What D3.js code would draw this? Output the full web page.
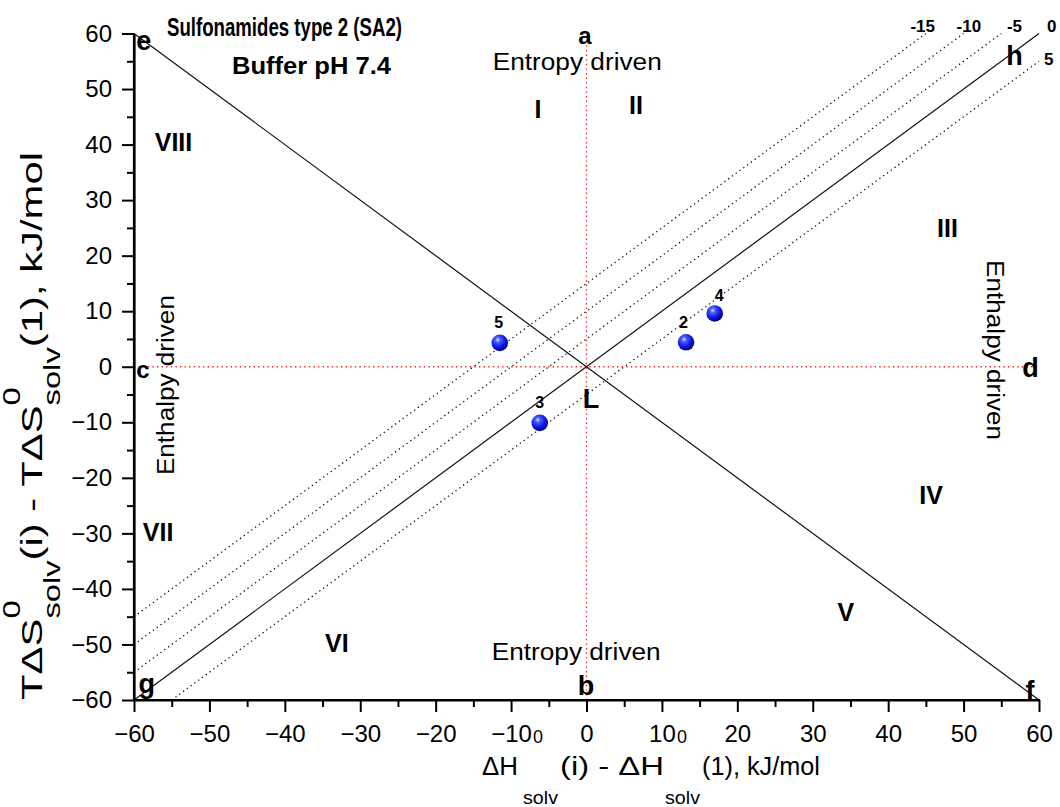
<!DOCTYPE html>
<html>
<head>
<meta charset="utf-8">
<script src="https://cdn.jsdelivr.net/npm/d3@7"></script>
<style>
  body { margin: 0; background: #fff; }
  svg { display: block; }
  text { font-family: "Liberation Sans", Arial, Helvetica, sans-serif; fill: #000; }
</style>
</head>
<body>
<svg id="chart" width="1060" height="807"></svg>
<script>
// Compounds: relative solvation enthalpy and entropy terms (kJ/mol)
const compoundIds = ["2", "3", "4", "5"];
const dHValues   = [13.2, -6.2, 17.0, -11.5];
const TdSValues  = [4.4, -10.1, 9.6, 4.3];

// Iso-Gibbs-energy lines: TΔS = ΔH − ΔG
const dGLevels = [-15, -10, -5, 0, 5];
const dGLabels = ["-15", "-10", "-5", "0", "5"];

// Axis ticks
const xTickValues = [-60, -50, -40, -30, -20, -10, 0, 10, 20, 30, 40, 50, 60];
const yTickValues = [-60, -50, -40, -30, -20, -10, 0, 10, 20, 30, 40, 50, 60];
const minorTickValues = [-55, -45, -35, -25, -15, -5, 5, 15, 25, 35, 45, 55];

// Sector letters, numerals and region captions (data coordinates)
const sectorNames = ["e", "a", "h", "c", "d", "L", "b", "g", "f"];
const sectorX = [-58.7, -0.2, 56.75, -58.8, 58.87, 0.6, -0.07, -58.3, 58.8];
const sectorY = [57.0, 58.1, 54.3, -2.0, -1.8, -7.5, -59.1, -58.7, -60.0];
const regionNames = ["I", "II", "III", "IV", "V", "VI", "VII", "VIII"];
const regionX = [-6.43, 6.56, 47.87, 45.68, 34.4, -33.1, -56.8, -54.76];
const regionY = [44.7, 45.45, 23.3, -24.7, -45.8, -51.3, -31.4, 38.9];

const svg = d3.select("#chart");

const x = d3.scaleLinear().domain([-60, 60]).range([134, 1039]);
const y = d3.scaleLinear().domain([-60, 60]).range([700, 33.5]);

// Sphere shading for the points
const defs = svg.append("defs");
const grad = defs.append("radialGradient").attr("id", "ball")
  .attr("cx", "38%").attr("cy", "32%").attr("r", "70%");
grad.append("stop").attr("offset", "0%").attr("stop-color", "#dfe6ff");
grad.append("stop").attr("offset", "22%").attr("stop-color", "#4a5cff");
grad.append("stop").attr("offset", "65%").attr("stop-color", "#0c14e0");
grad.append("stop").attr("offset", "100%").attr("stop-color", "#00008a");

const plot = svg.append("g");

// Red dotted quadrant lines through the origin
plot.append("line")
  .attr("x1", x(0)).attr("x2", x(0)).attr("y1", y(-60)).attr("y2", y(60))
  .attr("stroke", "#e8262b").attr("stroke-width", 1.3).attr("stroke-dasharray", "1.4,3.2");
plot.append("line")
  .attr("x1", x(-60)).attr("x2", x(60)).attr("y1", y(0)).attr("y2", y(0))
  .attr("stroke", "#e8262b").attr("stroke-width", 1.3).attr("stroke-dasharray", "1.4,3.2");

// Iso-ΔG lines clipped to the square [-60, 60]
dGLevels.forEach((g) => {
  const x0 = Math.max(-60, -60 + g);
  const x1 = Math.min(60, 60 + g);
  const ln = plot.append("line")
    .attr("x1", x(x0)).attr("y1", y(x0 - g))
    .attr("x2", x(x1)).attr("y2", y(x1 - g))
    .attr("stroke", "#111");
  if (g === 0) {
    ln.attr("stroke-width", 1.2);
  } else {
    ln.attr("stroke-width", 1.3).attr("stroke-dasharray", "1.3,3.4");
  }
});

// Diagonal e–f (ΔH = −TΔS)
plot.append("line")
  .attr("x1", x(-60)).attr("y1", y(60))
  .attr("x2", x(60)).attr("y2", y(-60))
  .attr("stroke", "#111").attr("stroke-width", 1.2);

// Labels of the iso-ΔG lines
const dGLabelX = [44.58, 50.7, 56.75, 61.68, 61.3];
const dGLabelY = [60.33, 60.33, 60.33, 60.33, 54.3];
dGLevels.forEach((g, i) => {
  svg.append("text")
    .attr("x", x(dGLabelX[i])).attr("y", y(dGLabelY[i]))
    .attr("text-anchor", "middle")
    .style("font-size", "17px").style("font-weight", "bold")
    .text(dGLabels[i]);
});

// Axes
const xAxis = svg.append("g").attr("transform", `translate(0,${y(-60)})`)
  .call(d3.axisBottom(x).tickValues(xTickValues).tickSize(12).tickPadding(13).tickSizeOuter(0));
const xMinor = svg.append("g").attr("transform", `translate(0,${y(-60)})`)
  .call(d3.axisBottom(x).tickValues(minorTickValues).tickSize(7).tickFormat("").tickSizeOuter(0));
const yAxis = svg.append("g").attr("transform", `translate(${x(-60)},0)`)
  .call(d3.axisLeft(y).tickValues(yTickValues).tickSize(12).tickPadding(10).tickSizeOuter(0));
const yMinor = svg.append("g").attr("transform", `translate(${x(-60)},0)`)
  .call(d3.axisLeft(y).tickValues(minorTickValues).tickSize(7).tickFormat("").tickSizeOuter(0));

[xAxis, xMinor, yAxis, yMinor].forEach((a) => {
  a.select(".domain").attr("stroke", "#000").attr("stroke-width", 2.2);
  a.selectAll(".tick line").attr("stroke", "#000").attr("stroke-width", 2);
  a.selectAll(".tick text")
    .attr("fill", "#000")
    .style("font-family", "'Liberation Sans', Arial, sans-serif")
    .style("font-size", "24px");
});
xAxis.select(".domain").attr("d", `M${x(-60) - 1},0H${x(60) + 1}`);
yAxis.select(".domain").attr("d", `M0,${y(-60) + 1}V${y(60)}`);

// Data points
const pts = plot.selectAll(".pt").data(compoundIds).enter().append("g");
pts.append("circle")
  .attr("cx", (d, i) => x(dHValues[i]))
  .attr("cy", (d, i) => y(TdSValues[i]))
  .attr("r", 8.3)
  .attr("fill", "url(#ball)");
pts.append("text")
  .attr("x", (d, i) => x(dHValues[i]) + [-2.5, 0, 4.5, -1][i])
  .attr("y", (d, i) => y(TdSValues[i]) - [14.5, 14.5, 12.5, 14.5][i])
  .attr("text-anchor", "middle")
  .style("font-size", "16px").style("font-weight", "bold")
  .text((d) => d);

// Sector letters
sectorNames.forEach((s, i) => {
  svg.append("text")
    .attr("x", x(sectorX[i])).attr("y", y(sectorY[i]))
    .attr("text-anchor", "middle")
    .style("font-size", s === "a" || s === "c" ? "24px" : "27px")
    .style("font-weight", "bold")
    .text(s);
});

// Region numerals
regionNames.forEach((r, i) => {
  svg.append("text")
    .attr("x", x(regionX[i])).attr("y", y(regionY[i]))
    .attr("text-anchor", "middle")
    .style("font-size", "25px").style("font-weight", "bold")
    .text(r);
});

// Region captions
function caption(px, py, rot, str, len) {
  svg.append("text")
    .attr("transform", `translate(${px},${py}) rotate(${rot})`)
    .attr("text-anchor", "middle")
    .attr("textLength", len).attr("lengthAdjust", "spacingAndGlyphs")
    .style("font-size", "23px")
    .text(str);
}
caption(x(-1.23), y(53.4), 0, "Entropy driven", 169);
caption(x(-1.37), y(-52.8), 0, "Entropy driven", 169);
caption(x(-54.7), y(-3.3), -90, "Enthalpy driven", 180);
caption(x(53.1), y(3.0), 90, "Enthalpy driven", 180);

// Title
svg.append("text").attr("x", 167).attr("y", 36)
  .attr("textLength", 235).attr("lengthAdjust", "spacingAndGlyphs")
  .style("font-size", "25px").style("font-weight", "bold")
  .text("Sulfonamides type 2 (SA2)");
svg.append("text").attr("x", 232).attr("y", 74)
  .attr("textLength", 159).attr("lengthAdjust", "spacingAndGlyphs")
  .style("font-size", "24px").style("font-weight", "bold")
  .text("Buffer pH 7.4");

// X axis title: runs placed at fixed offsets, stacked "0"/"solv" pairs
function stackedTitle(parent, runs, fs, subFs, supDy, subDy) {
  const g = parent.append("g");
  runs.forEach((r) => {
    if (r.kind === "s") {
      g.append("text").attr("x", r.at + r.supShift).attr("y", supDy)
        .style("font-size", subFs + "px").text("0");
      g.append("text").attr("x", r.at).attr("y", subDy)
        .attr("textLength", r.len).attr("lengthAdjust", "spacingAndGlyphs")
        .style("font-size", subFs + "px").text("solv");
    } else {
      g.append("text").attr("x", r.at).attr("y", 0)
        .attr("textLength", r.len).attr("lengthAdjust", "spacingAndGlyphs")
        .style("font-size", fs + "px").style("white-space", "pre")
        .text(r.t);
    }
  });
  return g;
}

const xTitle = stackedTitle(svg, [
  { kind: "n", t: "\u0394H", at: 0, len: 36 },
  { kind: "s", at: 41, len: 35, supShift: 10 },
  { kind: "n", t: "(i) - \u0394H", at: 78, len: 104 },
  { kind: "s", at: 183, len: 35, supShift: 12 },
  { kind: "n", t: "(1), kJ/mol", at: 220, len: 118 }
], 25, 18, -32, 29);
xTitle.attr("transform", "translate(482,775)");

// Y axis title: laid out by measured widths, then fitted to its span
function flowTitle(parent, parts, fs, subFs, supDy, subDy) {
  const g = parent.append("g");
  let cx = 0;
  parts.forEach((p) => {
    if (p.stack) {
      const a = g.append("text").attr("x", cx).attr("y", supDy).style("font-size", subFs + "px").text("0");
      const b = g.append("text").attr("x", cx).attr("y", subDy).style("font-size", subFs + "px").text("solv");
      cx += Math.max(a.node().getComputedTextLength(), b.node().getComputedTextLength());
    } else {
      const t = g.append("text").attr("x", cx).attr("y", 0).style("font-size", fs + "px")
        .style("white-space", "pre").text(p.t);
      cx += t.node().getComputedTextLength();
    }
  });
  return { g, width: cx };
}
const yt = flowTitle(svg, [
  { t: "T\u0394S" }, { stack: true },
  { t: "(i) - T\u0394S" }, { stack: true },
  { t: "(1), kJ/mol" }
], 23, 18, -17, 14);
const ytLen = 548;
yt.g.attr("transform", `translate(42,${426 + ytLen / 2}) rotate(-90) scale(${ytLen / yt.width},1.3)`);
</script>
</body>
</html>
